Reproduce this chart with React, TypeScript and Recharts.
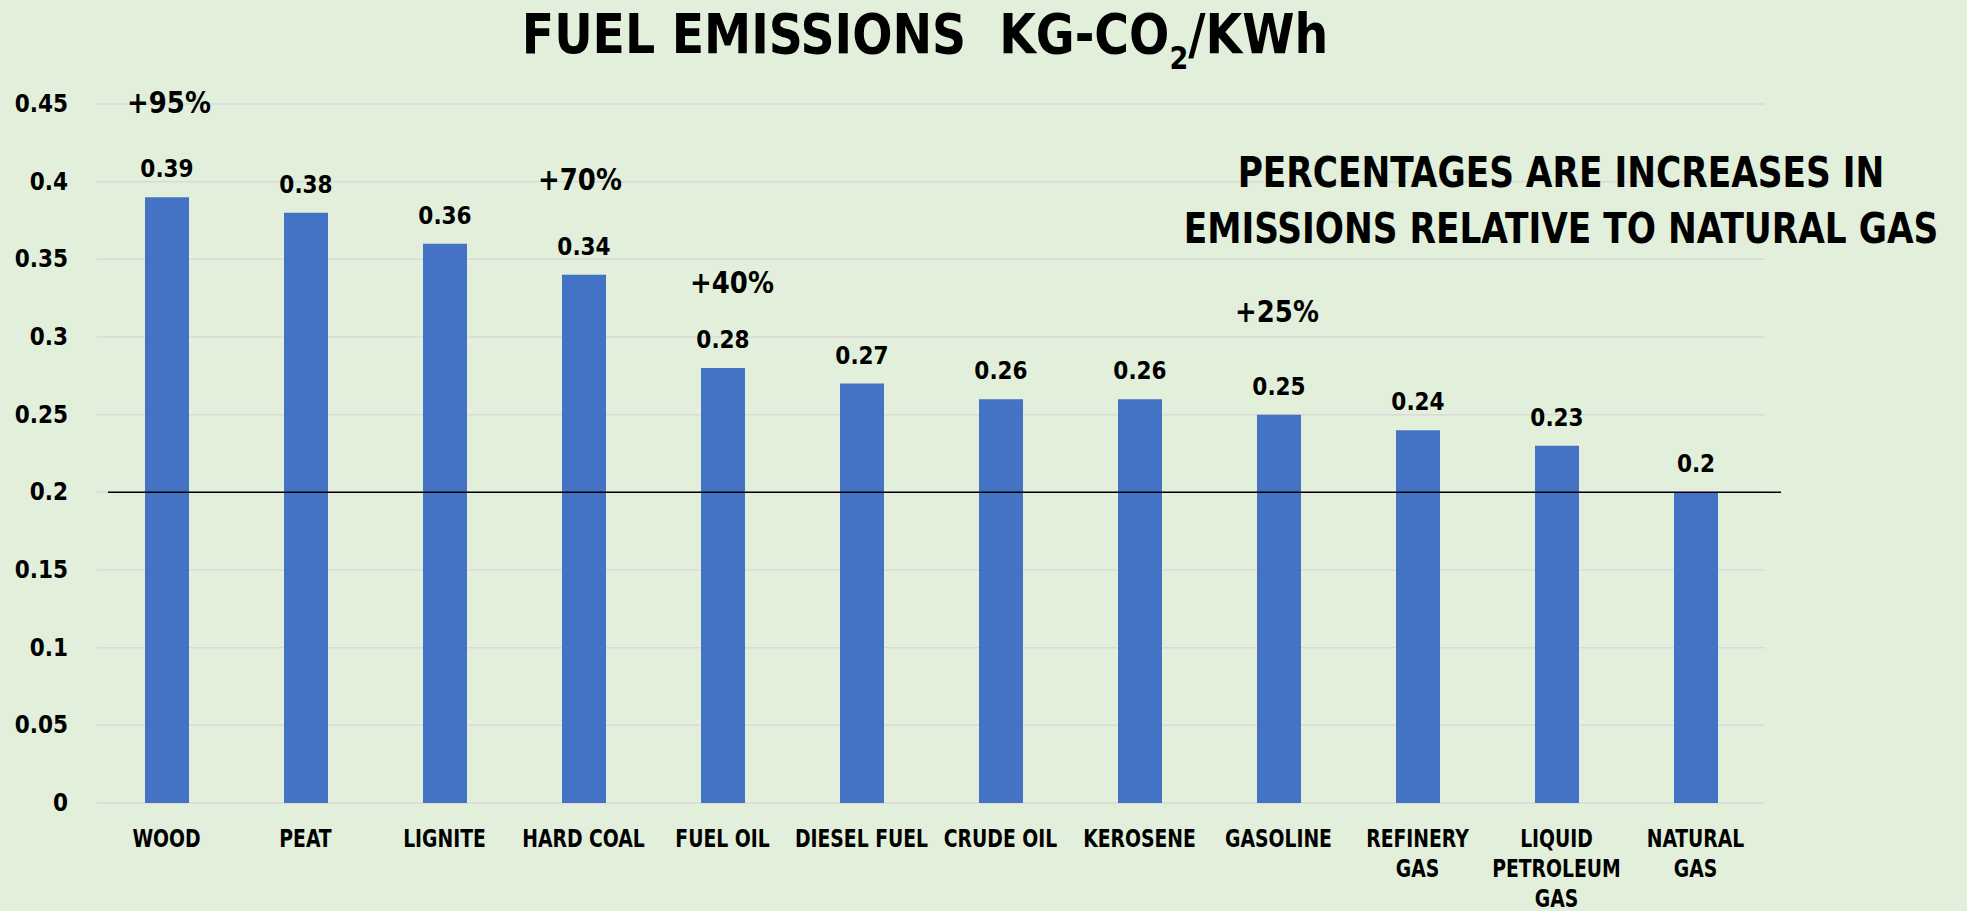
import React from 'react';
import {
  BarChart,
  Bar,
  XAxis,
  YAxis,
  CartesianGrid,
  LabelList,
  ReferenceLine,
} from 'recharts';

// Fuel categories (as printed under the bars, "\n" = line break in the tick label)
const categories = [
  'WOOD',
  'PEAT',
  'LIGNITE',
  'HARD COAL',
  'FUEL OIL',
  'DIESEL FUEL',
  'CRUDE OIL',
  'KEROSENE',
  'GASOLINE',
  'REFINERY\nGAS',
  'LIQUID\nPETROLEUM\nGAS',
  'NATURAL\nGAS',
];

// kg CO2 per kWh
const emissions = [0.39, 0.38, 0.36, 0.34, 0.28, 0.27, 0.26, 0.26, 0.25, 0.24, 0.23, 0.2];

// increase relative to natural gas, only shown on some bars
const increases = ['+95%', '', '', '+70%', '+40%', '', '', '', '+25%', '', '', ''];

const yTicks = [0, 0.05, 0.1, 0.15, 0.2, 0.25, 0.3, 0.35, 0.4, 0.45];

const baseline = 0.2;

const W = 1967;
const H = 911;
const BG = '#E2EFDA';
const BAR = '#4472C4';
const FONT = "'DejaVu Sans Condensed', 'DejaVu Sans', sans-serif";

// where the hand-placed percentage notes sit above their bar
const pctOffsetY: Record<number, number> = { 0: 84, 3: 85, 4: 75, 8: 93 };
const pctOffsetX: Record<number, number> = { 0: 2, 3: -4, 4: 9, 8: -2 };

const data = categories.map((name, i) => ({
  name,
  value: emissions[i],
  pct: increases[i],
}));

const XTick = (props: any) => {
  const { x, y, payload } = props;
  const lines = String(payload.value).split('\n');
  return (
    <g transform={`translate(${x},${y + 44}) scale(0.87,1)`}>
      <text
        x={0}
        y={0}
        textAnchor="middle"
        fill="#000"
        fontFamily={FONT}
        fontWeight="bold"
        fontSize={24}
      >
        {lines.map((ln, i) => (
          <tspan key={i} x={0} dy={i === 0 ? 0 : 30}>
            {ln}
          </tspan>
        ))}
      </text>
    </g>
  );
};

const YTick = (props: any) => {
  const { x, y, payload } = props;
  return (
    <text
      x={x}
      y={y}
      dy={8}
      textAnchor="end"
      fill="#000"
      fontFamily={FONT}
      fontWeight="bold"
      fontSize={24}
    >
      {payload.value}
    </text>
  );
};

const PctLabel = (props: any) => {
  const { x, y, width, value, index } = props;
  if (!value) return null;
  const cx = x + width / 2 + (pctOffsetX[index] || 0);
  const cy = y - (pctOffsetY[index] || 85);
  return (
    <g transform={`translate(${cx},${cy}) scale(0.93,1)`}>
      <text
        x={0}
        y={0}
        textAnchor="middle"
        fill="#000"
        fontFamily={FONT}
        fontWeight="bold"
        fontSize={31}
      >
        {value}
      </text>
    </g>
  );
};

const BaseLine = (props: any) => {
  const { x1, x2, y1 } = props;
  return <line x1={x1 + 11} x2={x2 + 16} y1={y1} y2={y1} stroke="#000" strokeWidth={1.5} />;
};

export default function App() {
  return (
    <div
      style={{
        position: 'fixed',
        left: 0,
        top: 0,
        width: W,
        height: H,
        background: BG,
        fontFamily: FONT,
        overflow: 'hidden',
      }}
    >
      <BarChart
        width={W}
        height={H}
        data={data}
        margin={{ top: 104, right: 202, bottom: 0, left: 0 }}
      >
        <CartesianGrid vertical={false} stroke="#D9D9D9" strokeWidth={1.5} />
        <XAxis
          dataKey="name"
          axisLine={false}
          tickLine={false}
          tickSize={0}
          tickMargin={0}
          height={108}
          interval={0}
          tick={<XTick />}
        />
        <YAxis
          domain={[0, 0.45]}
          ticks={yTicks}
          axisLine={false}
          tickLine={false}
          tickSize={0}
          tickMargin={29}
          width={97}
          tick={<YTick />}
        />
        <Bar dataKey="value" fill={BAR} barSize={44} isAnimationActive={false}>
          <LabelList
            dataKey="value"
            position="top"
            offset={20}
            fill="#000"
            fontFamily={FONT}
            fontWeight="bold"
            fontSize={24}
          />
          <LabelList dataKey="pct" content={<PctLabel />} />
        </Bar>
        <ReferenceLine y={baseline} shape={<BaseLine />} />
      </BarChart>

      <div
        style={{
          position: 'absolute',
          left: 925,
          top: 0,
          transform: 'translateX(-50%) scaleX(0.94)',
          whiteSpace: 'nowrap',
          fontWeight: 'bold',
          fontSize: 56,
          lineHeight: '68px',
          color: '#000',
        }}
      >
        FUEL EMISSIONS&nbsp;&nbsp;KG-CO
        <sub style={{ fontSize: 32, verticalAlign: -16, lineHeight: 0 }}>2</sub>/KWh
      </div>

      <div
        style={{
          position: 'absolute',
          left: 1561,
          top: 145,
          transform: 'translateX(-50%) scaleX(0.91)',
          whiteSpace: 'nowrap',
          textAlign: 'center',
          fontWeight: 'bold',
          fontSize: 42,
          lineHeight: '56px',
          color: '#000',
        }}
      >
        PERCENTAGES ARE INCREASES IN
        <br />
        EMISSIONS RELATIVE TO NATURAL GAS
      </div>
    </div>
  );
}
